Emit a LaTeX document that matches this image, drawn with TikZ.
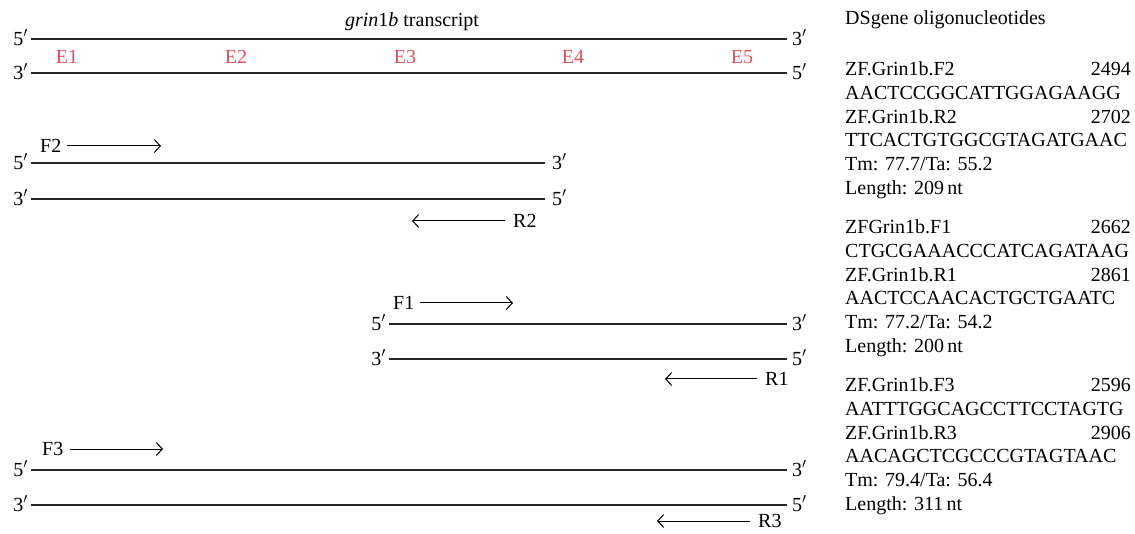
\documentclass[tikz,border=0pt]{standalone}
\usepackage{fontspec}
\setmainfont{Liberation Serif}
\usetikzlibrary{arrows.meta}
\definecolor{exred}{RGB}{224,80,90}
\newcommand\pr{$'$}
\begin{document}
\begin{tikzpicture}[x=1pt,y=-1pt,
  every node/.style={font=\fontsize{20}{24}\selectfont, inner sep=0pt},
  strand/.style={line width=1.1pt, draw=black!85},
  primer/.style={line width=1pt, -{Straight Barb[length=6pt,width=13pt,line width=1pt]}},
  lend/.style={anchor=base east},
  rend/.style={anchor=base west},
  exon/.style={anchor=base, text=exred},
  lbl/.style={anchor=base west},
  num/.style={anchor=base east}]
\useasboundingbox (0,0) rectangle (1135,534);

% ---------- transcript ----------
\node[anchor=base] (title) at (412,27) {\textit{grin}1\textit{b} transcript};
\coordinate (t1a) at (31,39);  \coordinate (t1b) at (787,39);
\coordinate (t2a) at (31,73);  \coordinate (t2b) at (787,73);
\draw[strand] (t1a) -- (t1b);
\draw[strand] (t2a) -- (t2b);
\node[lend] (t1l) at (28,45.5) {5\pr};
\node[rend] (t1r) at (792,45.5) {3\pr};
\node[lend] (t2l) at (28,79.5) {3\pr};
\node[rend] (t2r) at (792,79.5) {5\pr};
\node[exon] (e1) at (67,63.5) {E1};
\node[exon] (e2) at (236,63.5) {E2};
\node[exon] (e3) at (405,63.5) {E3};
\node[exon] (e4) at (573,63.5) {E4};
\node[exon] (e5) at (742,63.5) {E5};

% ---------- amplicon F2/R2 ----------
\node[lbl] (F2) at (40,152.5) {F2};
\coordinate (f2a) at (67,146); \coordinate (f2b) at (161,146);
\draw[primer] (f2a) -- (f2b);
\coordinate (a1a) at (31,163); \coordinate (a1b) at (545,163);
\coordinate (a2a) at (31,199); \coordinate (a2b) at (545,199);
\draw[strand] (a1a) -- (a1b);
\draw[strand] (a2a) -- (a2b);
\node[lend] at (28,169.5) (a1l) {5\pr};
\node[rend] at (552,169.5) (a1r) {3\pr};
\node[lend] at (28,205.5) (a2l) {3\pr};
\node[rend] at (552,205.5) (a2r) {5\pr};
\coordinate (r2a) at (505,221); \coordinate (r2b) at (412,221);
\draw[primer] (r2a) -- (r2b);
\node[lbl] (R2) at (513,227.5) {R2};

% ---------- amplicon F1/R1 ----------
\node[lbl] (F1) at (393,309.5) {F1};
\coordinate (f1a) at (420,303); \coordinate (f1b) at (513,303);
\draw[primer] (f1a) -- (f1b);
\coordinate (b1a) at (389,324); \coordinate (b1b) at (787,324);
\coordinate (b2a) at (389,359); \coordinate (b2b) at (787,359);
\draw[strand] (b1a) -- (b1b);
\draw[strand] (b2a) -- (b2b);
\node[lend] at (386,330.5) (b1l) {5\pr};
\node[rend] at (792,330.5) (b1r) {3\pr};
\node[lend] at (386,365.5) (b2l) {3\pr};
\node[rend] at (792,365.5) (b2r) {5\pr};
\coordinate (r1a) at (757,379); \coordinate (r1b) at (665,379);
\draw[primer] (r1a) -- (r1b);
\node[lbl] (R1) at (765,385.5) {R1};

% ---------- amplicon F3/R3 ----------
\node[lbl] (F3) at (42,455.5) {F3};
\coordinate (f3a) at (70,449); \coordinate (f3b) at (163,449);
\draw[primer] (f3a) -- (f3b);
\coordinate (c1a) at (31,470); \coordinate (c1b) at (787,470);
\coordinate (c2a) at (31,505); \coordinate (c2b) at (787,505);
\draw[strand] (c1a) -- (c1b);
\draw[strand] (c2a) -- (c2b);
\node[lend] at (28,476.5) (c1l) {5\pr};
\node[rend] at (792,476.5) (c1r) {3\pr};
\node[lend] at (28,511.5) (c2l) {3\pr};
\node[rend] at (792,511.5) (c2r) {5\pr};
\coordinate (r3a) at (750,521); \coordinate (r3b) at (657,521);
\draw[primer] (r3a) -- (r3b);
\node[lbl] (R3) at (758,527.5) {R3};

% ---------- oligonucleotide list ----------
\node[lbl] (head) at (845,25) {DSgene oligonucleotides};

\node[lbl] (p1) at (845,75.5) {ZF.Grin1b.F2};
\node[num] (n1) at (1131,75.5) {2494};
\node[lbl] (s1) at (845,99.3) {AACTCCGGCATTGGAGAAGG};
\node[lbl] (p2) at (845,123.1) {ZF.Grin1b.R2};
\node[num] (n2) at (1131,123.1) {2702};
\node[lbl] (s2) at (845,146.9) {TTCACTGTGGCGTAGATGAAC};
\node[lbl] (tm1) at (845,170.7) {Tm: 77.7/Ta: 55.2};
\node[lbl] (ln1) at (845,194.5) {Length: 209\,nt};

\node[lbl] (p3) at (845,233.5) {ZFGrin1b.F1};
\node[num] (n3) at (1131,233.5) {2662};
\node[lbl] (s3) at (845,257.3) {CTGCGAAACCCATCAGATAAG};
\node[lbl] (p4) at (845,281.1) {ZF.Grin1b.R1};
\node[num] (n4) at (1131,281.1) {2861};
\node[lbl] (s4) at (845,304.9) {AACTCCAACACTGCTGAATC};
\node[lbl] (tm2) at (845,328.7) {Tm: 77.2/Ta: 54.2};
\node[lbl] (ln2) at (845,352.5) {Length: 200\,nt};

\node[lbl] (p5) at (845,391.5) {ZF.Grin1b.F3};
\node[num] (n5) at (1131,391.5) {2596};
\node[lbl] (s5) at (845,415.3) {AATTTGGCAGCCTTCCTAGTG};
\node[lbl] (p6) at (845,439.1) {ZF.Grin1b.R3};
\node[num] (n6) at (1131,439.1) {2906};
\node[lbl] (s6) at (845,462.9) {AACAGCTCGCCCGTAGTAAC};
\node[lbl] (tm3) at (845,486.7) {Tm: 79.4/Ta: 56.4};
\node[lbl] (ln3) at (845,510.5) {Length: 311\,nt};
\end{tikzpicture}
\end{document}
